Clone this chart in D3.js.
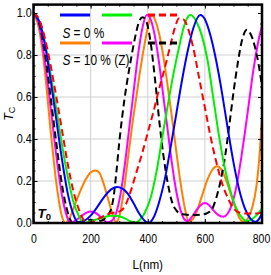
<!DOCTYPE html>
<html>
<head>
<meta charset="utf-8">
<script src="https://cdn.jsdelivr.net/npm/d3@7"></script>
<style>
  body { margin: 0; background: #fff; }
  svg { display: block; }
  text { font-family: "Liberation Sans", Arial, sans-serif; }
</style>
</head>
<body>
<div id="chart"></div>
<script>
// tick labels
const xTicks = [0, 200, 400, 600, 800];
const yTicks = [0, 0.2, 0.4, 0.6, 0.8, 1.0];

// series, [L (nm), T_C]
const blue = [[0,1],[20,0.96],[40,0.85],[60,0.68],[80,0.49],[100,0.3],[120,0.14],[140,0.04],[158,0],[180,0.012],[200,0.035],[220,0.07],[240,0.11],[260,0.145],[280,0.167],[292,0.172],[310,0.165],[330,0.14],[350,0.095],[370,0.045],[390,0.01],[402,0],[420,0.025],[440,0.1],[460,0.21],[480,0.36],[500,0.52],[520,0.68],[540,0.82],[560,0.93],[584,0.99],[600,0.97],[620,0.89],[640,0.77],[660,0.62],[680,0.45],[700,0.29],[720,0.16],[740,0.07],[760,0.02],[777,0.005],[790,0.02],[800,0.045]];
const green = [[0,1],[20,0.96],[40,0.86],[60,0.71],[80,0.54],[100,0.37],[120,0.22],[140,0.1],[160,0.03],[175,0],[190,0.004],[210,0.012],[230,0.021],[250,0.029],[270,0.034],[286,0.035],[300,0.032],[320,0.022],[340,0.008],[355,0.002],[370,0.012],[390,0.05],[410,0.12],[430,0.24],[450,0.4],[470,0.56],[490,0.71],[510,0.84],[530,0.95],[549,0.99],[570,0.96],[590,0.89],[610,0.77],[630,0.59],[650,0.41],[670,0.26],[690,0.15],[710,0.07],[730,0.025],[745,0.01],[760,0.015],[780,0.035],[800,0.07]];
const red = [[0,1],[20,0.97],[40,0.88],[60,0.75],[80,0.6],[100,0.44],[120,0.28],[140,0.15],[160,0.06],[175,0.015],[188,0],[205,0.005],[225,0.018],[245,0.033],[265,0.045],[285,0.05],[305,0.058],[320,0.08],[340,0.15],[360,0.24],[380,0.33],[400,0.43],[420,0.53],[440,0.64],[460,0.74],[480,0.85],[495,0.93],[510,0.975],[525,0.97],[540,0.93],[560,0.83],[580,0.69],[600,0.55],[620,0.41],[640,0.29],[660,0.19],[680,0.12],[700,0.07],[720,0.05],[740,0.045],[760,0.045],[780,0.045],[800,0.05]];
const orange = [[0,1],[20,0.92],[40,0.72],[60,0.44],[80,0.19],[100,0.03],[112,0],[125,0.02],[140,0.07],[160,0.14],[180,0.2],[200,0.24],[216,0.25],[230,0.24],[245,0.19],[260,0.12],[275,0.05],[288,0.005],[300,0.03],[315,0.14],[330,0.3],[345,0.46],[360,0.6],[375,0.74],[390,0.86],[405,0.96],[414,0.99],[425,0.97],[440,0.9],[455,0.79],[470,0.65],[485,0.5],[500,0.34],[515,0.19],[530,0.07],[543,0.01],[555,0.015],[570,0.05],[590,0.13],[610,0.21],[630,0.26],[642,0.27],[655,0.26],[670,0.22],[690,0.14],[710,0.06],[725,0.015],[738,0.005],[750,0.02],[765,0.07],[780,0.17],[790,0.3],[800,0.5]];
const magenta = [[0,1],[20,0.94],[40,0.77],[60,0.55],[80,0.32],[100,0.13],[115,0.04],[130,0],[145,0.01],[160,0.025],[180,0.045],[198,0.055],[215,0.05],[230,0.035],[245,0.015],[258,0.003],[275,0.012],[290,0.05],[305,0.14],[320,0.28],[335,0.45],[350,0.62],[365,0.79],[380,0.92],[397,0.99],[410,0.97],[425,0.89],[440,0.76],[455,0.6],[470,0.44],[485,0.28],[500,0.15],[515,0.06],[530,0.015],[540,0.01],[555,0.03],[570,0.06],[585,0.085],[600,0.095],[615,0.085],[630,0.06],[645,0.04],[665,0.03],[680,0.045],[695,0.09],[710,0.17],[725,0.29],[740,0.43],[755,0.58],[770,0.73],[785,0.85],[800,0.94]];
const black = [[0,1],[20,0.95],[40,0.81],[60,0.6],[80,0.38],[100,0.18],[120,0.05],[138,0],[160,0.005],[180,0.012],[200,0.015],[220,0.01],[240,0.012],[255,0.03],[270,0.06],[280,0.12],[290,0.24],[300,0.38],[310,0.5],[325,0.65],[340,0.77],[355,0.88],[370,0.96],[382,0.98],[395,0.96],[410,0.86],[425,0.69],[440,0.49],[455,0.32],[470,0.19],[485,0.1],[500,0.06],[515,0.045],[530,0.04],[550,0.038],[570,0.038],[590,0.04],[610,0.048],[625,0.065],[640,0.12],[655,0.2],[670,0.31],[685,0.46],[700,0.62],[715,0.76],[730,0.87],[747,0.92],[760,0.9],[775,0.84],[790,0.74],[800,0.65]];

const legendSymbol = 'S';
const legendLabels = ['= 0 %', '= 10 % (Z)'];

const series = [
    { key: 'orange', data: orange, color: '#ff7f00', dash: null },
    { key: 'magenta', data: magenta, color: '#ff00ff', dash: null },
    { key: 'black', data: black, color: '#000000', dash: '7,4' },
    { key: 'green', data: green, color: '#00ee00', dash: null },
    { key: 'blue', data: blue, color: '#0000ff', dash: null },
    { key: 'red', data: red, color: '#ff0000', dash: '7,4' }
];
const legendRows = [['blue', 'green', 'red'], ['orange', 'magenta', 'black']];

const fullWidth = 271, fullHeight = 275;
const plotLeft = 33.5, plotRight = 262, plotTop = 4.6, plotBottom = 223;

const svg = d3.select('#chart').append('svg')
    .attr('width', fullWidth)
    .attr('height', fullHeight);

const x = d3.scaleLinear().domain([0, 800]).range([plotLeft, plotRight]);
const y = d3.scaleLinear().domain([0, 1.04]).range([plotBottom, plotTop]);

// grid
svg.append('g')
    .selectAll('line')
    .data(xTicks.slice(1, -1))
    .enter().append('line')
    .attr('x1', d => x(d)).attr('x2', d => x(d))
    .attr('y1', plotTop).attr('y2', plotBottom)
    .attr('stroke', '#cfcfcf').attr('stroke-width', 1);
svg.append('g')
    .selectAll('line')
    .data(yTicks.slice(1, -1))
    .enter().append('line')
    .attr('x1', plotLeft).attr('x2', plotRight)
    .attr('y1', d => y(d)).attr('y2', d => y(d))
    .attr('stroke', '#cfcfcf').attr('stroke-width', 1);

// curves
svg.append('clipPath').attr('id', 'plotClip')
    .append('rect')
    .attr('x', plotLeft).attr('y', plotTop)
    .attr('width', plotRight - plotLeft).attr('height', plotBottom - plotTop);

const line = d3.line()
    .x(d => x(d[0]))
    .y(d => y(d[1]))
    .curve(d3.curveMonotoneX);

svg.append('g')
    .attr('clip-path', 'url(#plotClip)')
    .selectAll('path')
    .data(series)
    .enter().append('path')
    .attr('d', d => line(d.data))
    .attr('fill', 'none')
    .attr('stroke', d => d.color)
    .attr('stroke-width', 2)
    .attr('stroke-dasharray', d => d.dash);

// axes (inward ticks on all four sides)
function styleAxis(g) {
    g.select('.domain').remove();
    g.selectAll('.tick line').attr('stroke', '#000').attr('stroke-width', 1);
}
const xMinor = d3.range(0, 801, 50);
const yMinor = d3.range(0, 1.001, 0.05);

const gx = svg.append('g')
    .attr('transform', `translate(0, ${plotBottom})`)
    .call(d3.axisBottom(x).tickValues(xTicks).tickSize(-4).tickPadding(11.5).tickFormat(d3.format('d')))
    .call(styleAxis);
gx.selectAll('text')
    .attr('fill', '#000')
    .attr('font-size', 12.5)
    .attr('transform', (d, i) => `translate(${i === xTicks.length - 1 ? -1 : 0}, 0) scale(0.84, 1)`);
svg.append('g').attr('transform', `translate(0, ${plotBottom})`)
    .call(d3.axisBottom(x).tickValues(xMinor).tickSize(-2).tickFormat(''))
    .call(styleAxis);
svg.append('g').attr('transform', `translate(0, ${plotTop})`)
    .call(d3.axisTop(x).tickValues(xTicks).tickSize(-4).tickFormat(''))
    .call(styleAxis);
svg.append('g').attr('transform', `translate(0, ${plotTop})`)
    .call(d3.axisTop(x).tickValues(xMinor).tickSize(-2).tickFormat(''))
    .call(styleAxis);

const gy = svg.append('g')
    .attr('transform', `translate(${plotLeft}, 0)`)
    .call(d3.axisLeft(y).tickValues(yTicks).tickSize(-4).tickPadding(2).tickFormat(d3.format('.1f')))
    .call(styleAxis);
gy.selectAll('text')
    .attr('fill', '#000')
    .attr('font-size', 12)
    .attr('transform', 'scale(0.9, 1)');
svg.append('g').attr('transform', `translate(${plotLeft}, 0)`)
    .call(d3.axisLeft(y).tickValues(yMinor).tickSize(-2).tickFormat(''))
    .call(styleAxis);
svg.append('g').attr('transform', `translate(${plotRight}, 0)`)
    .call(d3.axisRight(y).tickValues(yTicks).tickSize(-4).tickFormat(''))
    .call(styleAxis);
svg.append('g').attr('transform', `translate(${plotRight}, 0)`)
    .call(d3.axisRight(y).tickValues(yMinor).tickSize(-2).tickFormat(''))
    .call(styleAxis);

// frame
svg.append('rect')
    .attr('x', plotLeft).attr('y', plotTop)
    .attr('width', plotRight - plotLeft).attr('height', plotBottom - plotTop)
    .attr('fill', 'none')
    .attr('stroke', '#000')
    .attr('stroke-width', 2.5);

// legend
const colX = [[60, 90], [102, 132], [148, 178]];
const rowY = [15, 43];
const byKey = {};
series.forEach(s => { byKey[s.key] = s; });
legendRows.forEach((row, r) => {
    row.forEach((k, c) => {
        const s = byKey[k];
        svg.append('line')
            .attr('x1', colX[c][0]).attr('x2', colX[c][1])
            .attr('y1', rowY[r]).attr('y2', rowY[r])
            .attr('stroke', s.color)
            .attr('stroke-width', 3)
            .attr('stroke-dasharray', s.dash);
    });
});
const labelY = [37.5, 65];
legendLabels.forEach((lab, i) => {
    const g = svg.append('g')
        .attr('transform', `translate(62.5, ${labelY[i]}) scale(0.82, 1)`);
    g.append('text')
        .attr('x', 0).attr('y', 0)
        .attr('font-size', 14.5)
        .attr('font-style', 'italic')
        .attr('fill', '#000')
        .text(legendSymbol);
    g.append('text')
        .attr('x', 13.5).attr('y', 0)
        .attr('font-size', 14.5)
        .attr('fill', '#000')
        .text(lab);
});

// T0 label
const t0 = svg.append('text')
    .attr('x', 37.5).attr('y', 217.5)
    .attr('font-size', 13.5)
    .attr('font-weight', 'bold')
    .attr('fill', '#000');
t0.append('tspan').attr('font-style', 'italic').text('T');
t0.append('tspan').attr('font-size', 9.5).attr('dy', 2).text('0');

// y title
const yt = svg.append('text')
    .attr('transform', `translate(12.5, ${(plotTop + plotBottom) / 2}) rotate(-90)`)
    .attr('text-anchor', 'middle')
    .attr('font-size', 12.5)
    .attr('fill', '#000');
yt.append('tspan').attr('font-style', 'italic').text('T');
yt.append('tspan').attr('font-size', 9).attr('dy', 2).text('C');

// x title
svg.append('text')
    .attr('transform', `translate(${(plotLeft + plotRight) / 2}, 269) scale(0.9, 1)`)
    .attr('text-anchor', 'middle')
    .attr('font-size', 13)
    .attr('fill', '#000')
    .text('L(nm)');
</script>
</body>
</html>
